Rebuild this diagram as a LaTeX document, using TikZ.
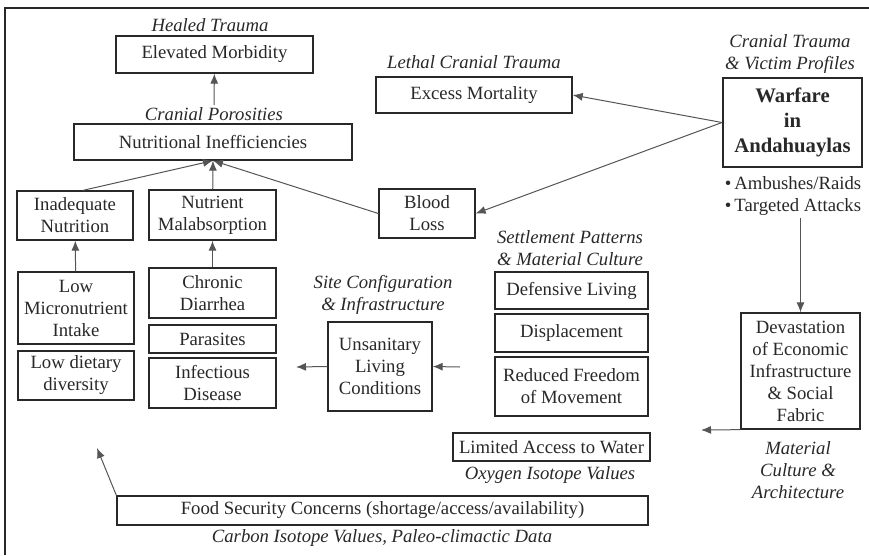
\documentclass[tikz,border=0pt]{standalone}
\usepackage{fontspec}
\setmainfont{Liberation Serif}[Ligatures=TeX]
\newfontfamily\figfont{Liberation Serif}
\usetikzlibrary{arrows.meta, positioning}
\definecolor{inkgray}{RGB}{40,40,40}
\definecolor{linegray}{RGB}{85,85,85}

\begin{document}
\begin{tikzpicture}[x=1pt, y=-1pt, >={Latex[length=10pt,width=8pt]},
    box/.style={draw=inkgray, line width=1.3pt, text=inkgray, align=center, inner sep=2pt,
        font=\figfont\fontsize{18.7}{22}\selectfont},
    tag/.style={text=inkgray, align=center, inner sep=2pt, font=\figfont\fontsize{18.7}{22}\selectfont\itshape},
    link/.style={->, draw=linegray, line width=1pt}]
  \useasboundingbox (0,0) rectangle (869,555);
  \fill[white] (0,0) rectangle (869,555);
  \draw[inkgray, line width=2pt] (5,555) -- (5,8) -- (869,8);

  % health outcomes
  \node[tag] (healedlbl) at (210,25) {Healed Trauma};
  \node[box, minimum width=197, minimum height=37] (morbid) at (214.5,54.5) {Elevated Morbidity};
  \node[tag] (porlbl) at (214,114) {Cranial Porosities};
  \node[box, minimum width=278, minimum height=36] (nutri) at (213,142) {Nutritional Inefficiencies};
  \node[tag] (lethallbl) at (474,62) {Lethal Cranial Trauma};
  \node[box, minimum width=196, minimum height=36] (excess) at (474,95) {Excess Mortality};

  % causes of nutritional stress
  \node[box, minimum width=116, minimum height=49] (inadeq) at (75,215.5) {Inadequate\\Nutrition};
  \node[box, minimum width=127, minimum height=50] (malabs) at (212.5,215) {Nutrient\\Malabsorption};
  \node[box, minimum width=96, minimum height=49] (blood) at (427,213.5) {Blood\\Loss};
  \node[box, minimum width=116, minimum height=72] (lowmicro) at (76,308) {Low\\Micronutrient\\Intake};
  \node[box, minimum width=116, minimum height=49] (lowdiet) at (76,375.5) {Low dietary\\diversity};
  \node[box, minimum width=127, minimum height=50] (diarrhea) at (212.5,293) {Chronic\\Diarrhea};
  \node[box, minimum width=127, minimum height=28] (parasite) at (212.5,339) {Parasites};
  \node[box, minimum width=127, minimum height=50] (infect) at (212.5,383) {Infectious\\Disease};

  % settlement and environment
  \node[tag] (sitelbl) at (383,295) {Site Configuration\\\& Infrastructure};
  \node[box, minimum width=104, minimum height=89] (unsan) at (380,366.5) {Unsanitary\\Living\\Conditions};
  \node[tag] (settlelbl) at (570,248) {Settlement Patterns\\\& Material Culture};
  \node[box, minimum width=153, minimum height=37] (defens) at (571.5,290.5) {Defensive Living};
  \node[box, minimum width=153, minimum height=38] (displ) at (571.5,333) {Displacement};
  \node[box, minimum width=153, minimum height=59] (reduced) at (571.5,386.5) {Reduced Freedom\\of Movement};
  \node[box, minimum width=197, minimum height=28] (water) at (551.5,447) {Limited Access to Water};
  \node[tag] (oxylbl) at (550,475) {Oxygen Isotope Values};
  \node[box, minimum width=531, minimum height=29] (food) at (382.5,510.5) {Food Security Concerns (shortage/access/availability)};
  \node[tag] (carblbl) at (382,538) {Carbon Isotope Values, Paleo-climactic Data};

  % warfare
  \node[tag] (victimlbl) at (790,53.5) {Cranial Trauma\\\& Victim Profiles};
  \node[box, line width=2pt, minimum width=139, minimum height=89,
        font=\figfont\fontsize{20.7}{25}\selectfont\bfseries] (warfare) at (792.5,122.5) {Warfare\\in\\Andahuaylas};
  \node[text=inkgray, align=left, inner sep=2pt, font=\figfont\fontsize{18.7}{22}\selectfont] (tactics) at (793,196)
    {\textbullet\,Ambushes/Raids\\\textbullet\,Targeted Attacks};
  \node[box, minimum width=119, minimum height=116] (devast) at (800.5,371) {Devastation\\of Economic\\Infrastructure\\\& Social\\Fabric};
  \node[tag] (matlbl) at (798,470) {Material\\Culture \&\\Architecture};

  \coordinate (infectin) at (296,367);
  \coordinate (settleout) at (460,367);
  \coordinate (devastout) at (701,430);
  \coordinate (foodout) at (97,448);

  \draw[link] (porlbl) -- (morbid);
  \draw[link] (inadeq.north) ++(8,0) -- (nutri.south);
  \draw[link] (malabs) -- (nutri.south);
  \draw[link] (blood.west) -- (nutri.south);
  \draw[link] (lowmicro) -- (inadeq);
  \draw[link] (diarrhea) -- (malabs);
  \draw[link] (unsan.west) -- (infectin);
  \draw[link] (settleout) -- (unsan.east);
  \draw[link] (warfare.west) -- (excess.east);
  \draw[link] (warfare.west) -- (blood.east);
  \draw[link] (tactics.south -| devast.north) -- (devast.north);
  \draw[link] (devast.south west) -- (devastout);
  \draw[link] (food.north west) -- (foodout);
\end{tikzpicture}
\end{document}
